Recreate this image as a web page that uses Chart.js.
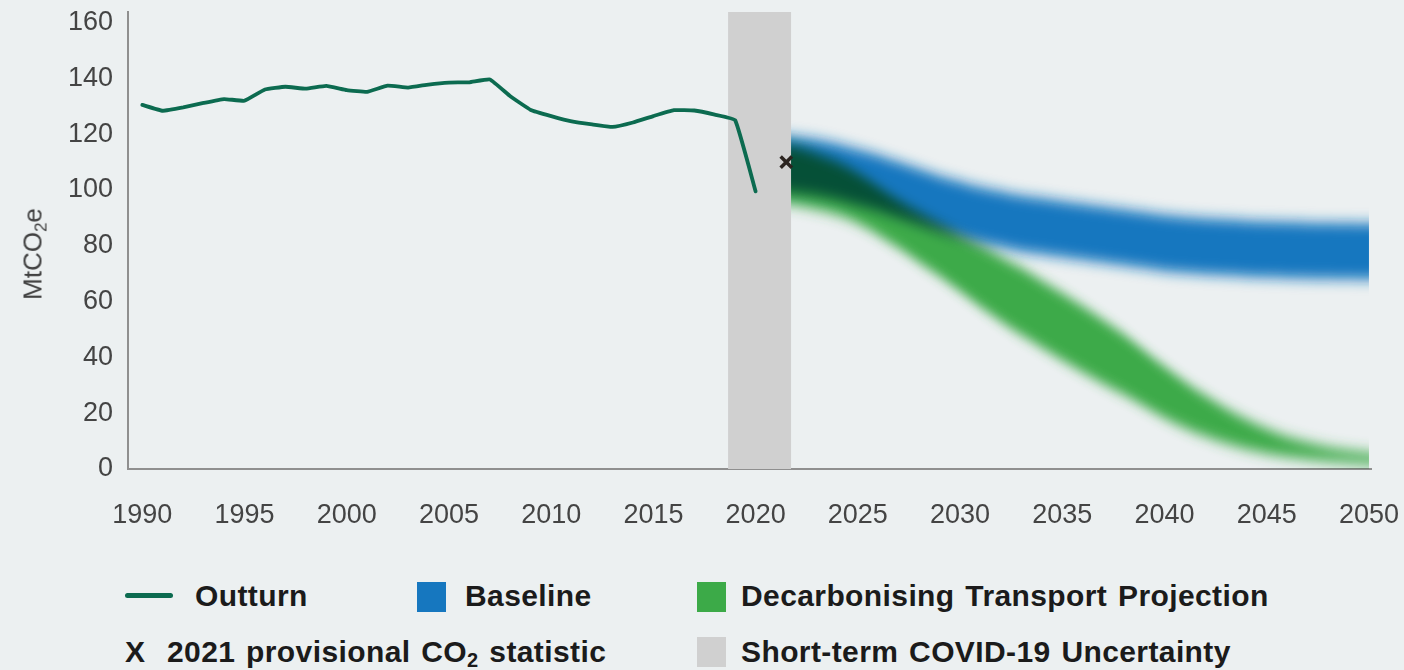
<!DOCTYPE html>
<html>
<head>
<meta charset="utf-8">
<script src="https://cdn.jsdelivr.net/npm/chart.js@4.4.1/dist/chart.umd.min.js"></script>
<style>
html,body{margin:0;padding:0;background:#ecf0f1;}
#wrap{position:relative;width:1404px;height:670px;overflow:hidden;background:#ecf0f1;font-family:"Liberation Sans",Arial,sans-serif;}
#c{position:absolute;left:0;top:0;}
#ytitle{position:absolute;left:33px;top:254px;transform:translate(-50%,-50%) rotate(-90deg);font-size:26px;color:#404040;white-space:nowrap;}
#ytitle sub{font-size:17px;vertical-align:-5px;line-height:0;}
.lt{position:absolute;font-weight:bold;font-size:30px;line-height:30px;color:#1b1b1b;white-space:nowrap;letter-spacing:0.4px;word-spacing:2px;}
.lt sub{font-size:20px;vertical-align:-5px;line-height:0;}
.box{position:absolute;width:29px;height:30px;}
.ln{position:absolute;height:5px;border-radius:3px;background:#0c6b50;}
</style>
</head>
<body>
<svg width="0" height="0" style="position:absolute">
  <filter id="vblur" filterUnits="userSpaceOnUse" x="0" y="0" width="1404" height="545">
    <feGaussianBlur stdDeviation="0 7"/>
  </filter>
</svg>
<div id="wrap">
  <canvas id="c" width="1404" height="545"></canvas>
  <div id="ytitle">MtCO<sub>2</sub>e</div>
  <div class="ln" style="left:125px;top:593px;width:48px;"></div>
  <div class="lt" style="left:195px;top:581px;">Outturn</div>
  <div class="box" style="left:417px;top:582px;background:#1677bf;"></div>
  <div class="lt" style="left:465px;top:581px;">Baseline</div>
  <div class="box" style="left:697px;top:582px;background:#3caa48;"></div>
  <div class="lt" style="left:741px;top:581px;">Decarbonising Transport Projection</div>
  <div class="lt" style="left:125px;top:637px;">X</div>
  <div class="lt" style="left:167px;top:637px;">2021 provisional CO<sub>2</sub> statistic</div>
  <div class="box" style="left:697px;top:637px;background:#d0d0d0;"></div>
  <div class="lt" style="left:741px;top:637px;">Short-term COVID-19 Uncertainty</div>
</div>
<script>
// ---- data ----
const outturnYears = [1990,1991,1992,1993,1994,1995,1996,1997,1998,1999,2000,2001,2002,2003,2004,2005,2006,2007,2008,2009,2010,2011,2012,2013,2014,2015,2016,2017,2018,2019,2020];
const outturnValues = [130.5,128.4,129.6,131.2,132.6,132.0,136.0,137.0,136.3,137.3,135.8,135.2,137.4,136.7,137.8,138.5,138.6,139.6,133.6,128.7,126.5,124.6,123.5,122.6,124.2,126.5,128.6,128.5,127.0,125.0,99.5];

const projYears = [2021,2022,2023,2024,2025,2026,2027,2028,2029,2030,2031,2032,2033,2034,2035,2036,2037,2038,2039,2040,2041,2042,2043,2044,2045,2046,2047,2048,2049,2050];
const baselineMid = [110,109,108,106.5,104.5,102.5,100,97.5,95,93,91,89.5,88,87,86,85,84,83,82,81,80.3,79.8,79.4,79,78.7,78.5,78.3,78.2,78.1,78];
const baselineHalf = [10,10,10,10,10,10,10,10,10,10,10,10,10,10,10,10,10,10,10,10,10,10,10,10,10,10,10,10,10,10];
const decarbMid = [106,105,103,100.5,97,92.5,87.7,83,78.5,73.8,69.1,64.5,60,55.5,51,46.5,42,37.5,32.5,27.5,23,19,15.5,12.5,10,8,6.5,5.3,4.4,3.7];
const decarbHalf = [10.5,10.5,10,9.5,9,8.7,8.6,9,9.5,10.2,11,11.6,12,12,12,11.8,11.4,10.8,10,9.2,8.3,7.3,6.3,5.3,4.4,3.6,3,2.5,2.2,2];

const provisionalYear = [2021.5];
const provisionalValue = [110];

const covidRange = [2018.65, 2021.74];

const xTicks = [1990,1995,2000,2005,2010,2015,2020,2025,2030,2035,2040,2045,2050];
const yTicks = [0,20,40,60,80,100,120,140,160];
const xMin = 1989.3, xMax = 2050.1, yMin = 0, yMax = 163.8;

// ---- build datasets ----
const pts = (xs, ys) => xs.map((x, i) => ({x: x, y: ys[i]}));
const upper = (m, h) => m.map((v, i) => v + h[i]);
const lower = (m, h) => m.map((v, i) => Math.max(0, v - h[i]));

const blurFx = {filter: 'url(#vblur)', blend: 'source-over'};
const blurMul = {filter: 'url(#vblur)', blend: 'multiply'};

const datasets = [
  { label: '2021 provisional CO2 statistic', data: pts(provisionalYear, provisionalValue), showLine: false,
    pointStyle: 'crossRot', pointRadius: 8, pointBorderWidth: 3.5, pointBorderColor: '#2b2420', borderColor: '#2b2420', order: 1 },
  { label: 'Outturn', data: pts(outturnYears, outturnValues), borderColor: '#0c6b50', borderWidth: 3.8,
    pointRadius: 0, tension: 0.1, borderJoinStyle: 'round', borderCapStyle: 'round', fill: false, order: 2 },
  { label: 'Short-term COVID-19 Uncertainty', data: pts(covidRange, [yMax, yMax]), borderWidth: 0, pointRadius: 0,
    backgroundColor: '#d0d0d0', fill: 'origin', order: 3 },
  { label: 'Decarbonising Transport Projection', data: pts(projYears, upper(decarbMid, decarbHalf)), borderWidth: 0, pointRadius: 0,
    backgroundColor: '#3caa48', fill: '+1', tension: 0.4, cubicInterpolationMode: 'monotone', order: 4, fx: blurMul },
  { label: 'decarb-low', data: pts(projYears, lower(decarbMid, decarbHalf)), borderWidth: 0, pointRadius: 0,
    fill: false, tension: 0.4, cubicInterpolationMode: 'monotone', order: 5, fx: blurMul },
  { label: 'Baseline', data: pts(projYears, upper(baselineMid, baselineHalf)), borderWidth: 0, pointRadius: 0,
    backgroundColor: '#1677bf', fill: '+1', tension: 0.4, cubicInterpolationMode: 'monotone', order: 6, fx: blurFx },
  { label: 'baseline-low', data: pts(projYears, lower(baselineMid, baselineHalf)), borderWidth: 0, pointRadius: 0,
    fill: false, tension: 0.4, cubicInterpolationMode: 'monotone', order: 7, fx: blurFx }
];

// plugin: soft (blurred) bands and multiply blending
function applyFx(chart, meta) {
  const ctx = chart.ctx;
  const ds = meta ? chart.data.datasets[meta.index] : null;
  const fx = ds && ds.fx;
  ctx.filter = fx ? fx.filter : 'none';
  ctx.globalCompositeOperation = fx ? fx.blend : 'source-over';
}
const bandFx = {
  id: 'bandFx',
  beforeDatasetsDraw(chart) {
    const seq = chart.getSortedVisibleDatasetMetas().slice().reverse();
    applyFx(chart, seq[0]);
  },
  afterDatasetDraw(chart, args) {
    const seq = chart.getSortedVisibleDatasetMetas().slice().reverse();
    const i = seq.indexOf(args.meta);
    applyFx(chart, seq[i + 1]);
  },
  afterDatasetsDraw(chart) {
    chart.ctx.filter = 'none';
    chart.ctx.globalCompositeOperation = 'source-over';
  }
};

const tickFont = {family: '"Liberation Sans", Arial, sans-serif', size: 27};

new Chart(document.getElementById('c'), {
  type: 'line',
  data: { datasets: datasets },
  options: {
    responsive: false,
    devicePixelRatio: 1,
    animation: false,
    layout: { padding: { left: 0, right: 33, top: 12, bottom: 0 } },
    plugins: { legend: { display: false }, tooltip: { enabled: false } },
    scales: {
      x: {
        type: 'linear', min: xMin, max: xMax,
        afterBuildTicks: s => { s.ticks = xTicks.map(v => ({value: v})); },
        afterFit: s => { s.height = 76; s.paddingLeft = 0; s.paddingRight = 0; },
        ticks: { font: tickFont, color: '#444444', padding: 30, maxRotation: 0, autoSkip: false, callback: v => String(v) },
        grid: { display: false, drawTicks: false },
        border: { display: true, color: '#8f8f8f', width: 2 }
      },
      y: {
        min: yMin, max: yMax,
        afterBuildTicks: s => { s.ticks = yTicks.map(v => ({value: v})); },
        afterFit: s => { s.width = 128; s.paddingTop = 0; s.paddingBottom = 0; },
        ticks: { font: tickFont, color: '#444444', padding: 15, autoSkip: false },
        grid: { display: false, drawTicks: false },
        border: { display: true, color: '#8f8f8f', width: 2 }
      }
    }
  },
  plugins: [bandFx]
});
</script>
</body>
</html>
